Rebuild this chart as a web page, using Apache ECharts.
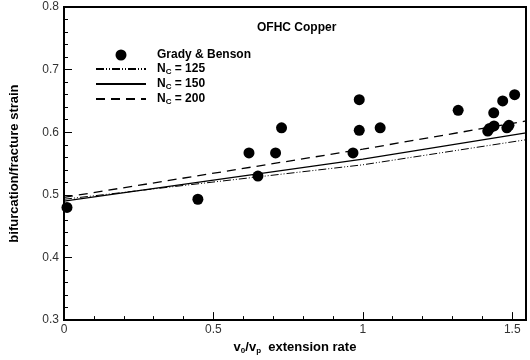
<!DOCTYPE html>
<html>
<head>
<meta charset="utf-8">
<script src="https://cdn.jsdelivr.net/npm/echarts@6/dist/echarts.min.js"></script>
<style>
html,body{margin:0;padding:0;background:#fff;}
#chart{width:530px;height:360px;}
</style>
</head>
<body>
<div id="chart"></div>
<script>
// Grady & Benson measurements
var expX = [0.01, 0.448, 0.619, 0.649, 0.708, 0.728, 0.967, 0.988, 0.988, 1.058, 1.319, 1.418, 1.424, 1.438, 1.439, 1.468, 1.482, 1.489, 1.508];
var expY = [0.480, 0.493, 0.567, 0.530, 0.567, 0.607, 0.567, 0.652, 0.603, 0.607, 0.635, 0.602, 0.606, 0.631, 0.610, 0.650, 0.607, 0.611, 0.660];

// model curves
var lineX = [0, 1, 1.546];
var nc125 = [0.493, 0.548, 0.588];
var nc150 = [0.490, 0.557, 0.599];
var nc200 = [0.496, 0.573, 0.618];

function pairs(xs, ys){
    var out = [];
    for(var i=0;i<xs.length;i++){
        out.push([xs[i], ys[i]]);
    }
    return out;
}

var font = 'Liberation Sans, Arial, sans-serif';
var labelNames = {
    'Grady & Benson': '{b|Grady & Benson}',
    'Nc125': '{b|N}{s|C}{b| = 125}',
    'Nc150': '{b|N}{s|C}{b| = 150}',
    'Nc200': '{b|N}{s|C}{b| = 200}'
};
// hide the symbol in the line legend icons, keep the line
var noMark = {color: 'rgba(0,0,0,0)', borderWidth: 0, opacity: 0};

var myChart = echarts.init(document.getElementById('chart'));
myChart.setOption({
    animation: false,
    backgroundColor: '#fff',
    title: {
        text: 'OFHC Copper',
        left: 252,
        top: 17,
        textStyle: {fontFamily: font, fontSize: 12, fontWeight: 'bold', color: '#000'}
    },
    legend: {
        orient: 'vertical',
        left: 90,
        top: 44,
        itemWidth: 50,
        itemHeight: 11,
        itemGap: 2,
        data: [
            {name: 'Grady & Benson'},
            {name: 'Nc125', itemStyle: noMark},
            {name: 'Nc150', itemStyle: noMark},
            {name: 'Nc200', itemStyle: noMark}
        ],
        formatter: function (name) {
            return labelNames[name];
        },
        textStyle: {
            fontFamily: font,
            padding: [0, 0, 0, 6],
            rich: {
                b: {fontFamily: font, fontSize: 12, fontWeight: 'bold', color: '#000'},
                s: {fontFamily: font, fontSize: 8, fontWeight: 'bold', color: '#000', verticalAlign: 'bottom', padding: [6, 0, 0, 0]}
            }
        }
    },
    grid: {
        left: 63,
        right: 4,
        top: 7,
        bottom: 37,
        show: true,
        borderColor: '#000',
        borderWidth: 2,
        backgroundColor: '#fff'
    },
    xAxis: {
        type: 'value',
        min: 0,
        max: 1.546,
        interval: 0.5,
        name: '{b|v}{s|0}{b|/v}{s|p}{b|  extension rate}',
        nameLocation: 'middle',
        nameGap: 19,
        nameTextStyle: {
            rich: {
                b: {fontFamily: font, fontSize: 13, fontWeight: 'bold', color: '#000'},
                s: {fontFamily: font, fontSize: 8, fontWeight: 'bold', color: '#000', verticalAlign: 'bottom', padding: [7, 0, 0, 0]}
            }
        },
        axisLine: {lineStyle: {color: '#000', width: 2}},
        axisTick: {inside: true, length: 8, lineStyle: {color: '#000', width: 1}},
        minorTick: {show: true, splitNumber: 5, length: 4, lineStyle: {color: '#000', width: 1}},
        splitLine: {show: false},
        axisLabel: {
            fontFamily: font,
            fontSize: 12,
            color: '#333',
            margin: 4,
            formatter: function (v) {
                if (Math.abs(v * 2 - Math.round(v * 2)) > 1e-6) return '';
                return String(v);
            }
        }
    },
    yAxis: {
        type: 'value',
        min: 0.3,
        max: 0.8,
        interval: 0.1,
        name: 'bifurcation/fracture strain',
        nameLocation: 'middle',
        nameGap: 43,
        nameTextStyle: {fontFamily: font, fontSize: 13, fontWeight: 'bold', color: '#000'},
        axisLine: {lineStyle: {color: '#000', width: 2}},
        axisTick: {inside: true, length: 8, lineStyle: {color: '#000', width: 1}},
        minorTick: {show: true, splitNumber: 5, length: 4, lineStyle: {color: '#000', width: 1}},
        splitLine: {show: false},
        axisLabel: {
            fontFamily: font,
            fontSize: 12,
            color: '#333',
            margin: 5,
            formatter: function (v) {
                return v.toFixed(1);
            }
        }
    },
    series: [{
        name: 'Grady & Benson',
        type: 'scatter',
        symbol: 'circle',
        symbolSize: 11,
        itemStyle: {color: '#000', opacity: 1},
        data: pairs(expX, expY),
        z: 5
    }, {
        name: 'Nc125',
        type: 'line',
        symbol: 'none',
        lineStyle: {color: '#000', width: 1, type: [8, 2, 1, 2, 1, 2]},
        itemStyle: {color: '#000'},
        data: pairs(lineX, nc125)
    }, {
        name: 'Nc150',
        type: 'line',
        symbol: 'none',
        lineStyle: {color: '#000', width: 1.3, type: 'solid'},
        itemStyle: {color: '#000'},
        data: pairs(lineX, nc150)
    }, {
        name: 'Nc200',
        type: 'line',
        symbol: 'none',
        lineStyle: {color: '#000', width: 1.3, type: [9, 6]},
        itemStyle: {color: '#000'},
        data: pairs(lineX, nc200)
    }]
});
</script>
</body>
</html>
